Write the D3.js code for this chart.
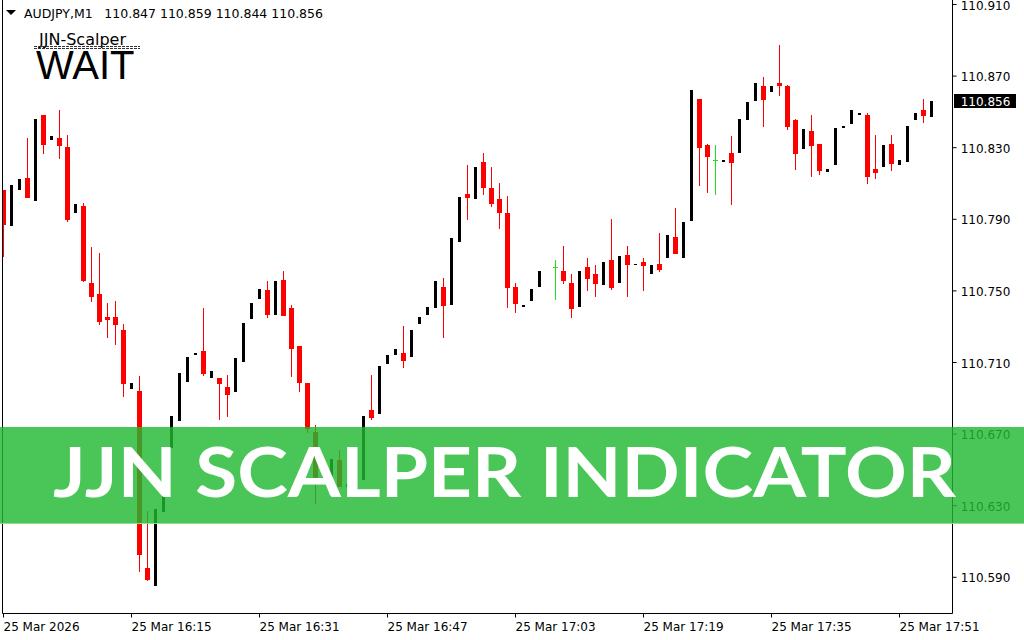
<!DOCTYPE html>
<html>
<head>
<meta charset="utf-8">
<script src="https://cdn.jsdelivr.net/npm/d3@7/dist/d3.min.js"></script>
<style>
  html, body { margin: 0; padding: 0; background: #ffffff; }
  svg { display: block; }
</style>
</head>
<body>
<svg id="chart" width="1024" height="640"></svg>
<script>
// ---------------- DATA ----------------
const symbol = "AUDJPY,M1";
const headerOHLC = "110.847 110.859 110.844 110.856";
const indicatorName = "JJN-Scalper";
const signalText = "WAIT";
const bannerText = "JJN SCALPER INDICATOR";
const currentPrice = 110.856;

const priceTicks = [110.910, 110.870, 110.830, 110.790, 110.750, 110.710, 110.670, 110.630, 110.590];
const timeTickIndex = [0, 16, 32, 48, 64, 80, 96, 112];
const timeTickLabels = ["25 Mar 2026", "25 Mar 16:15", "25 Mar 16:31", "25 Mar 16:47",
                        "25 Mar 17:03", "25 Mar 17:19", "25 Mar 17:35", "25 Mar 17:51"];

// one-minute candles, index 0 .. 116 (null = no bar drawn)
const opens = [
110.806,110.786,110.806,110.813,110.800,110.848,110.834,110.835,110.830,110.793,
110.797,110.754,110.748,110.735,110.735,110.728,110.695,110.694,110.595,110.585,
110.626,110.662,110.677,110.699,110.714,110.716,110.701,110.701,110.696,110.693,
110.710,110.734,110.745,110.750,110.736,110.756,110.740,110.719,110.698,110.671,
110.645,110.644,110.655,110.640,110.642,110.644,110.683,110.681,110.709,110.714,
110.715,110.713,110.731,110.736,110.740,110.752,110.742,110.777,110.804,110.801,
110.822,110.807,110.801,110.793,110.752,110.741,110.744,110.752,null,110.763,
110.761,110.754,110.741,110.763,110.759,110.753,110.767,110.754,110.770,110.764,
110.766,110.759,110.765,110.768,110.780,110.768,110.789,110.857,110.831,110.823,
110.822,110.827,110.827,110.845,110.856,110.864,110.861,110.866,110.864,110.845,
110.829,110.839,110.832,110.816,110.820,110.841,110.843,110.848,110.848,110.818,
110.819,110.832,110.820,110.822,110.845,110.851,110.847];
const highs = [
110.806,110.809,110.812,110.835,110.846,110.848,110.836,110.851,110.837,110.798,
110.799,110.774,110.771,110.743,110.744,110.731,110.698,110.702,110.627,110.628,
110.657,110.680,110.704,110.713,110.715,110.740,110.705,110.701,110.703,110.712,
110.732,110.743,110.751,110.755,110.755,110.761,110.742,110.719,110.698,110.675,
110.652,110.656,110.661,110.642,110.645,110.680,110.703,110.708,110.714,110.717,
110.730,110.728,110.735,110.741,110.755,110.757,110.779,110.802,110.820,110.819,
110.827,110.819,110.810,110.803,110.754,110.742,110.751,110.761,null,110.767,
110.775,110.759,110.761,110.768,110.764,110.766,110.790,110.769,110.775,110.765,
110.768,110.764,110.782,110.781,110.796,110.788,110.862,110.857,110.832,110.831,
110.823,110.836,110.846,110.855,110.866,110.869,110.864,110.887,110.865,110.846,
110.840,110.848,110.832,110.818,110.841,110.842,110.851,110.849,110.849,110.837,
110.831,110.837,110.823,110.842,110.849,110.857,110.859];
const lows = [
110.769,110.786,110.806,110.802,110.800,110.827,110.834,110.824,110.789,110.793,
110.755,110.744,110.731,110.724,110.720,110.691,110.695,110.593,110.588,110.585,
110.626,110.662,110.677,110.699,110.714,110.703,110.701,110.678,110.680,110.693,
110.710,110.734,110.745,110.735,110.736,110.736,110.702,110.694,110.671,110.631,
110.640,110.644,110.641,110.640,110.642,110.644,110.678,110.681,110.709,110.714,
110.707,110.713,110.731,110.736,110.740,110.724,110.742,110.777,110.790,110.801,
110.804,110.797,110.785,110.741,110.738,110.741,110.744,110.752,null,110.745,
110.754,110.735,110.741,110.750,110.747,110.753,110.751,110.754,110.747,110.764,
110.750,110.759,110.761,110.768,110.771,110.768,110.789,110.809,110.805,110.804,
110.822,110.798,110.827,110.845,110.856,110.842,110.861,110.859,110.840,110.818,
110.829,110.814,110.815,110.816,110.820,110.841,110.843,110.848,110.810,110.813,
110.819,110.817,110.820,110.822,110.845,110.844,110.844];
const closes = [
110.787,110.809,110.812,110.802,110.846,110.832,110.836,110.831,110.790,110.798,
110.756,110.747,110.733,110.734,110.731,110.698,110.698,110.603,110.589,110.628,
110.657,110.680,110.704,110.713,110.715,110.704,110.705,110.698,110.692,110.712,
110.732,110.743,110.751,110.737,110.755,110.736,110.718,110.699,110.673,110.645,
110.650,110.656,110.641,110.642,110.645,110.680,110.679,110.708,110.714,110.717,
110.711,110.728,110.735,110.741,110.755,110.742,110.779,110.802,110.802,110.819,
110.808,110.799,110.794,110.752,110.743,110.742,110.751,110.761,null,110.763,
110.756,110.740,110.761,110.757,110.754,110.766,110.752,110.769,110.765,110.765,
110.764,110.764,110.762,110.781,110.771,110.788,110.862,110.830,110.825,110.823,
110.823,110.822,110.846,110.855,110.866,110.857,110.864,110.865,110.842,110.827,
110.840,110.831,110.817,110.818,110.841,110.842,110.851,110.849,110.814,110.816,
110.831,110.821,110.823,110.842,110.849,110.848,110.856];

// ---------------- CHART ----------------
const W = 1024, H = 640;
const plot = { left: 2.5, right: 952.5, top: 0.5, bottom: 613.5 };
const svg = d3.select("#chart");

svg.append("rect").attr("width", W).attr("height", H).attr("fill", "#ffffff");

const x = d3.scaleLinear().domain([0, 116]).range([3.5, 931.5]);
const y = d3.scaleLinear().domain([110.590, 110.910]).range([576.8, 4]);

const candles = opens.map((o, i) => ({ i, o, h: highs[i], l: lows[i], c: closes[i] }))
  .filter(d => d.o !== null);

svg.append("clipPath").attr("id", "plotClip")
  .append("rect").attr("x", 3).attr("y", 1).attr("width", 949).attr("height", 612);

const g = svg.append("g").attr("clip-path", "url(#plotClip)");

const RED = "#ff0000", BLACK = "#000000", DOJI = "#22dd22";
function kind(d) { return d.c > d.o ? "bull" : (d.c < d.o ? "bear" : "doji"); }

// wicks (bear and doji)
g.selectAll("rect.wick").data(candles.filter(d => kind(d) !== "bull")).join("rect")
  .attr("class", "wick")
  .attr("x", d => x(d.i) - 0.5)
  .attr("y", d => Math.round(y(d.h)))
  .attr("width", 1)
  .attr("height", d => Math.max(1, Math.round(y(d.l)) - Math.round(y(d.h)) + 1))
  .attr("fill", d => kind(d) === "doji" ? DOJI : RED);

// bodies
g.selectAll("rect.body").data(candles).join("rect")
  .attr("class", "body")
  .attr("x", d => x(d.i) - (kind(d) === "bull" ? 1.5 : 2.5))
  .attr("y", d => Math.round(y(Math.max(d.o, d.c))))
  .attr("width", d => kind(d) === "bull" ? 3 : 5)
  .attr("height", d => Math.max(1, Math.round(y(Math.min(d.o, d.c))) - Math.round(y(Math.max(d.o, d.c))) + (kind(d) === "bear" ? 1 : 0)))
  .attr("fill", d => kind(d) === "bull" ? BLACK : (kind(d) === "bear" ? RED : DOJI));

// frame
svg.append("path")
  .attr("d", `M${plot.left},0 V${plot.bottom} H${plot.right} V0`)
  .attr("fill", "none").attr("stroke", "#000").attr("stroke-width", 1);

// right price axis
const yAxis = d3.axisRight(y).tickValues(priceTicks).tickSize(4).tickPadding(4)
  .tickFormat(d3.format(".3f"));
const ya = svg.append("g").attr("transform", `translate(${plot.right},0)`).call(yAxis);
ya.select(".domain").remove();
ya.selectAll("line").attr("stroke", "#000");
ya.selectAll("text").attr("x", 8.2).attr("dy", "0.42em")
  .attr("font-family", "DejaVu Sans").attr("font-size", 12).attr("fill", "#000");

// current price marker
const cy = y(currentPrice);
svg.append("rect").attr("x", 954).attr("y", Math.round(cy) - 7).attr("width", 62).attr("height", 14).attr("fill", "#000");
svg.append("text").attr("x", 960.7).attr("y", cy).attr("dy", "0.42em")
  .attr("font-family", "DejaVu Sans").attr("font-size", 12).attr("fill", "#fff")
  .text(d3.format(".3f")(currentPrice));

// bottom time axis
const xAxis = d3.axisBottom(x).tickValues(timeTickIndex).tickSize(4)
  .tickFormat((d, i) => timeTickLabels[i]);
const xa = svg.append("g").attr("transform", `translate(0,${plot.bottom})`).call(xAxis);
xa.select(".domain").remove();
xa.selectAll("line").attr("stroke", "#000").attr("transform", "translate(-0.5,0)");
xa.selectAll("text").attr("text-anchor", "start").attr("x", -0.5).attr("y", 17.5).attr("dy", null)
  .attr("font-family", "DejaVu Sans").attr("font-size", 12).attr("fill", "#000");

// header
svg.append("path").attr("d", "M6,10 L16,10 L11,15 Z").attr("fill", "#000");
svg.append("text").attr("x", 24).attr("y", 18.3)
  .attr("font-family", "DejaVu Sans").attr("font-size", 12.5).attr("fill", "#000").text(symbol);
svg.append("text").attr("x", 104.3).attr("y", 18.3)
  .attr("font-family", "DejaVu Sans").attr("font-size", 12.5).attr("fill", "#000").text(headerOHLC);

// indicator label
svg.append("text").attr("x", 39).attr("y", 44.5)
  .attr("font-family", "DejaVu Sans").attr("font-size", 16).attr("fill", "#000").text(indicatorName);
[46.5, 48.5].forEach(yy => {
  svg.append("line").attr("x1", 34).attr("x2", 140).attr("y1", yy).attr("y2", yy)
    .attr("stroke", "#333").attr("stroke-width", 1).attr("stroke-dasharray", "3,1");
});
svg.append("text").attr("x", 36).attr("y", 79)
  .attr("font-family", "Liberation Sans").attr("font-size", 40).attr("fill", "#000").text(signalText);

// banner
svg.append("rect").attr("x", 0).attr("y", 427).attr("width", W).attr("height", 97)
  .attr("fill", "rgb(32,185,49)").attr("fill-opacity", 0.81);
svg.append("rect").attr("x", 0).attr("y", 523).attr("width", W).attr("height", 1)
  .attr("fill", "#8fdc97");
svg.append("text").attr("x", 53).attr("y", 497)
  .attr("font-family", "Lato").attr("font-weight", 700).attr("font-size", 68)
  .attr("textLength", 903).attr("lengthAdjust", "spacingAndGlyphs")
  .attr("fill", "#ffffff").text(bannerText);
</script>
</body>
</html>
